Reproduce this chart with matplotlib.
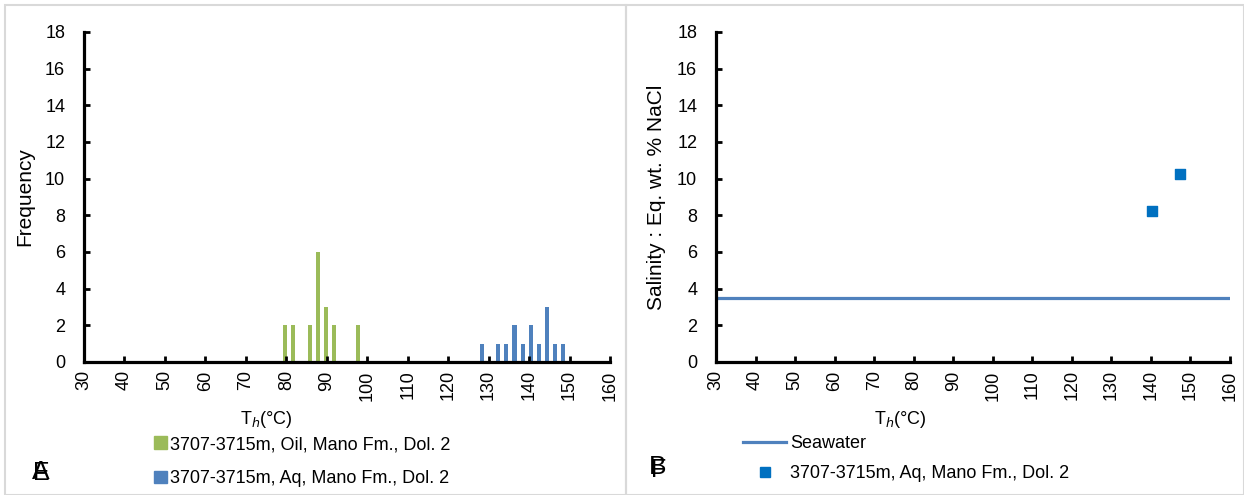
import numpy as np
import matplotlib
matplotlib.use("Agg")
import matplotlib.pyplot as plt
from matplotlib.lines import Line2D

plt.rcParams['font.family'] = ['Liberation Sans', 'DejaVu Sans']

# Panel A: homogenisation temperature histograms (bin centre, count)
oil_th = [80, 82, 86, 88, 90, 92, 98]
oil_freq = [2, 2, 2, 6, 3, 2, 2]
aq_th = [128, 132, 134, 136, 138, 140, 142, 144, 146, 148]
aq_freq = [1, 1, 1, 2, 1, 2, 1, 3, 1, 1]

# Panel B: salinity vs Th
sal_th = [140.3, 147.4]
sal_wt = [8.25, 10.25]
seawater = 3.5

x_ticks = list(range(30, 161, 10))
y_ticks = list(range(0, 19, 2))

oil_label = "3707-3715m, Oil, Mano Fm., Dol. 2"
aq_label = "3707-3715m, Aq, Mano Fm., Dol. 2"

green = '#9bbb59'
blue = '#4f81bd'
mark_blue = '#0070c0'
fs = 13

fig = plt.figure(figsize=(12.44, 4.95), dpi=100)

# light gray chart frames
W, H = 1244, 495
for x0, x1 in [(5, 626), (626, 1244)]:
    fig.add_artist(plt.Rectangle((x0 / W, 0), (x1 - x0) / W, (H - 5) / H,
                                 transform=fig.transFigure, fill=False,
                                 edgecolor='#d9d9d9', linewidth=1.5))


def style_axis(ax, xlab_pos):
    ax.set_xlim(30, 160)
    ax.set_ylim(0, 18)
    ax.set_xticks(x_ticks)
    ax.set_yticks(y_ticks)
    ax.tick_params(direction='in', length=4, width=2, labelsize=fs)
    ax.tick_params(axis='x', labelrotation=90, pad=6)
    ax.tick_params(axis='y', pad=13.5)
    for s in ['top', 'right']:
        ax.spines[s].set_visible(False)
    for s in ['left', 'bottom']:
        ax.spines[s].set_linewidth(2.3)
    ax.set_xlabel(r'T$_{\it{h}}$(°C)', fontsize=fs)
    ax.xaxis.set_label_coords(xlab_pos, -0.142)


# --- panel A
ax1 = fig.add_axes([84 / W, 1 - 362 / H, (610 - 84) / W, 330 / H])
ax1.bar(np.array(oil_th) - 0.25, oil_freq, width=1.0, color=green)
ax1.bar(np.array(aq_th) + 0.4, aq_freq, width=1.0, color=blue)
style_axis(ax1, 0.346)
ax1.set_ylabel('Frequency', fontsize=15, labelpad=8)

fig.legend(handles=[plt.Rectangle((0, 0), 1, 1, color=green),
                    plt.Rectangle((0, 0), 1, 1, color=blue)],
           labels=[oil_label, aq_label], loc='upper left',
           bbox_to_anchor=(145 / W, 1 - 427 / H), frameon=False,
           fontsize=fs, handlelength=0.7, handleheight=0.7,
           handletextpad=0.2, labelspacing=0.95, borderpad=0)

# overlapping panel letters (as in the source figure)
fig.text(41 / W, 1 - 472 / H, 'A', fontsize=19, ha='center', va='center')
fig.text(41 / W, 1 - 473 / H, 'E', fontsize=18, ha='center', va='center')

# --- panel B
ax2 = fig.add_axes([716 / W, 1 - 362 / H, (1230 - 716) / W, 330 / H])
ax2.axhline(seawater, color=blue, linewidth=2.3)
ax2.scatter(sal_th, sal_wt, marker='s', s=60, color=mark_blue, zorder=3)
style_axis(ax2, 0.358)
ax2.set_ylabel('Salinity : Eq. wt. % NaCl', fontsize=15, labelpad=8)

fig.legend(handles=[Line2D([], [], color=blue, linewidth=2.3),
                    Line2D([], [], color=mark_blue, marker='s', linestyle='',
                           markersize=7)],
           labels=['Seawater', aq_label], loc='upper left',
           bbox_to_anchor=(734 / W, 1 - 426 / H), frameon=False,
           fontsize=fs, handlelength=2.4, handletextpad=0.2,
           labelspacing=0.72, borderpad=0)

fig.text(658 / W, 1 - 467 / H, 'B', fontsize=19, ha='center', va='center')
fig.text(659 / W, 1 - 470 / H, 'F', fontsize=18, ha='center', va='center')

fig.savefig('out.png', dpi=100)
